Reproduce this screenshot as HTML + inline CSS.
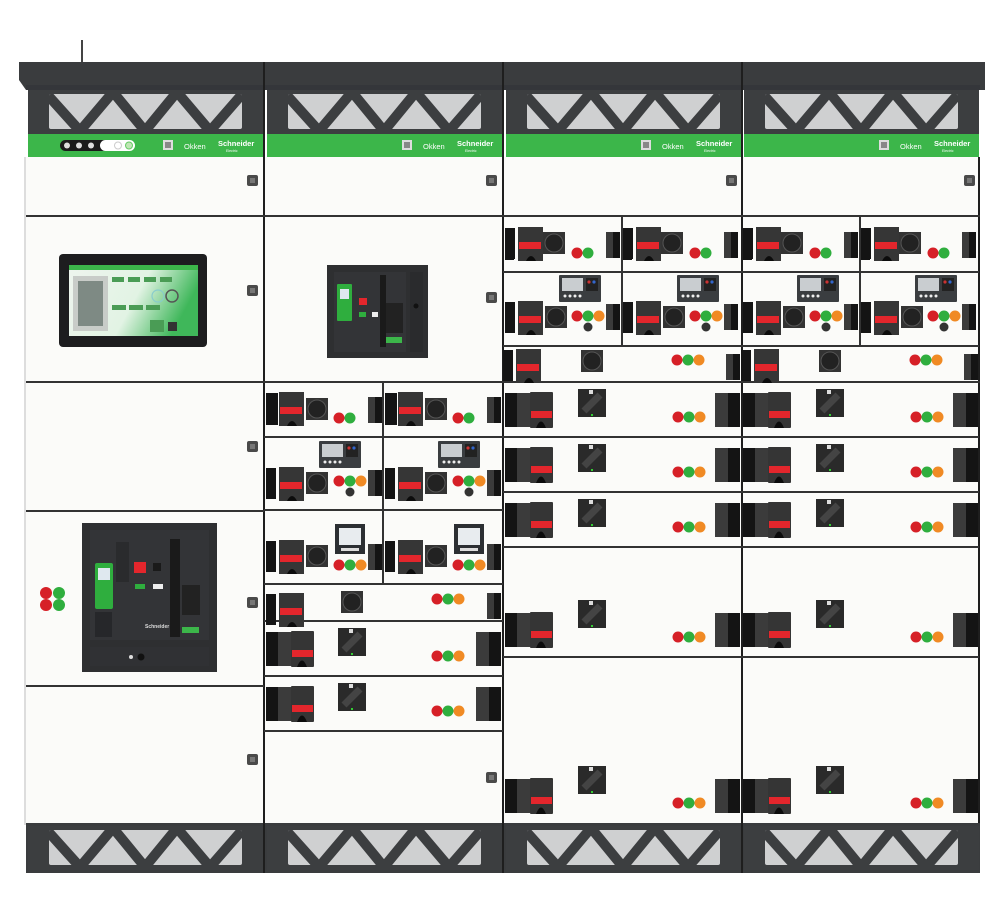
<!DOCTYPE html>
<html><head><meta charset="utf-8"><style>
html,body{margin:0;padding:0;background:#fff;}
svg{display:block;font-family:"Liberation Sans",sans-serif;}
</style></head><body>
<svg width="1000" height="923" viewBox="0 0 1000 923" xmlns="http://www.w3.org/2000/svg">
<defs>
  <g id="M">
    <rect x="0" y="0" width="12" height="34" fill="#141414"/>
    <rect x="12" y="0" width="13" height="34" fill="#3b3b3b"/>
    <rect x="25" y="-1" width="23" height="36" rx="1" fill="#353535"/>
    <rect x="26" y="18" width="21" height="7" fill="#e3262c"/>
    <path d="M31 35 Q36 22 41 35 Z" fill="#0c0c0c"/>
  </g>
  <g id="R">
    <rect x="0" y="0" width="28" height="28" fill="#2a2a2a"/>
    <path d="M6 22 L22 6" stroke="#444" stroke-width="7"/>
    <rect x="11" y="1" width="4" height="4" fill="#ddd"/>
    <rect x="13" y="25" width="2" height="2" fill="#3c3"/>
  </g>
  <g id="Rr">
    <rect x="0" y="0" width="22" height="22" fill="#333"/>
    <circle cx="11" cy="11" r="9" fill="#222" stroke="#555" stroke-width="1"/>
  </g>
  <g id="B">
    <rect x="0" y="0" width="13" height="34" fill="#3b3b3b"/>
    <rect x="13" y="0" width="12" height="34" fill="#141414"/>
  </g>
  <g id="Bs">
    <rect x="0" y="0" width="7" height="26" fill="#3b3b3b"/>
    <rect x="7" y="0" width="7" height="26" fill="#141414"/>
  </g>
  <g id="SM">
    <rect x="0" y="1" width="10" height="31" fill="#141414"/>
    <rect x="13" y="0" width="25" height="34" fill="#363636"/>
    <rect x="14" y="15" width="22" height="7" fill="#e3262c"/>
    <path d="M21 34 Q26 24 31 34 Z" fill="#0c0c0c"/>
  </g>
  <g id="L3">
    <circle cx="0" cy="0" r="5.5" fill="#d62027"/>
    <circle cx="11" cy="0" r="5.5" fill="#2fae3e"/>
    <circle cx="22" cy="0" r="5.5" fill="#f08a24"/>
  </g>
  <g id="L2">
    <circle cx="0" cy="0" r="5.5" fill="#d62027"/>
    <circle cx="11" cy="0" r="5.5" fill="#2fae3e"/>
  </g>
  <g id="K"><rect x="0" y="0" width="11" height="11" rx="2" fill="#4a4a4a"/><rect x="3" y="3" width="5" height="5" fill="#777"/></g>
  <g id="D">
    <rect x="0" y="0" width="42" height="27" rx="1" fill="#3a3d40"/>
    <rect x="3" y="3" width="21" height="13" fill="#c9cdd0"/>
    <rect x="27" y="3" width="12" height="13" fill="#222"/>
    <circle cx="30" cy="7" r="1.6" fill="#c33"/><circle cx="35" cy="7" r="1.6" fill="#36c"/>
    <circle cx="6" cy="21" r="1.5" fill="#eee"/><circle cx="11" cy="21" r="1.5" fill="#eee"/><circle cx="16" cy="21" r="1.5" fill="#eee"/><circle cx="21" cy="21" r="1.5" fill="#eee"/>
  </g>
  <g id="MET">
    <rect x="0" y="0" width="30" height="30" fill="#2c2f33"/>
    <rect x="4" y="4" width="22" height="17" fill="#e8ecef"/>
    <rect x="6" y="24" width="18" height="3" fill="#ddd"/>
  </g>
  <g id="VENT">
    <rect x="2" y="0" width="235" height="44" fill="#3c3e40"/>
    <clipPath id="vc"><rect x="23" y="4" width="193" height="35" rx="2"/></clipPath>
    <rect x="23" y="4" width="193" height="35" rx="2" fill="#cfd0d1"/>
    <polyline clip-path="url(#vc)" points="19,2 54,41 87,2 119,41 151,2 184,41 218,2" fill="none" stroke="#3c3e40" stroke-width="10" stroke-linejoin="round"/>
  </g>
  <g id="COLTOP">
    <rect x="2" y="0" width="235" height="23" fill="#3cb64a"/>
    <rect x="137" y="6" width="10" height="10" fill="#ddd"/>
    <rect x="139" y="8" width="6" height="6" fill="#888"/>
    <text x="158" y="15" font-size="7.5" fill="#fff">Okken</text>
    <text x="192" y="12" font-size="7.5" font-weight="bold" fill="#fff">Schneider</text>
    <text x="200" y="18" font-size="3.5" fill="#fff">Electric</text>
  </g>
</defs>

<!-- antenna -->
<rect x="81" y="40" width="2" height="22" fill="#444"/>
<!-- body -->
<rect x="26" y="157" width="954" height="668" fill="#fbfbf9"/>
<rect x="24" y="157" width="2" height="668" fill="#ddd"/>
<!-- top cap -->
<path d="M19 62 L985 62 L985 90 L26 90 L19 80 Z" fill="#3a3c3e"/>
<rect x="26" y="85" width="954" height="5" fill="#34363a"/>
<use href="#VENT" x="26" y="90"/><use href="#VENT" x="265" y="90"/><use href="#VENT" x="504" y="90"/><use href="#VENT" x="742" y="90"/>
<use href="#COLTOP" x="26" y="134"/><use href="#COLTOP" x="265" y="134"/><use href="#COLTOP" x="504" y="134"/><use href="#COLTOP" x="742" y="134"/>
<!-- col1 indicator pill -->
<rect x="60" y="140" width="50" height="11" rx="5.5" fill="#1b1b1b"/>
<rect x="100" y="140" width="35" height="11" rx="5.5" fill="#fff"/>
<circle cx="67" cy="145.5" r="3" fill="#ddd"/><circle cx="79" cy="145.5" r="3" fill="#ddd"/><circle cx="91" cy="145.5" r="3" fill="#ddd"/>
<circle cx="118" cy="145.5" r="3.5" fill="none" stroke="#ccc"/><circle cx="129" cy="145.5" r="3.5" fill="#bfe6b5" stroke="#6c6"/>
<!-- plinth -->
<rect x="26" y="823" width="954" height="50" fill="#3a3c3e"/>
<use href="#VENT" x="26" y="826"/><use href="#VENT" x="265" y="826"/><use href="#VENT" x="504" y="826"/><use href="#VENT" x="742" y="826"/>

<!-- column dividers -->
<g fill="#1e1e1e">
<rect x="263" y="62" width="2" height="811"/>
<rect x="502" y="62" width="2" height="811"/>
<rect x="741" y="62" width="2" height="811"/>
<rect x="978" y="157" width="2" height="666"/>
</g>
<!-- horizontal dividers -->
<g fill="#333">
<rect x="26" y="215" width="954" height="2"/>
<rect x="26" y="381" width="954" height="2"/>
<rect x="26" y="510" width="238" height="2"/>
<rect x="26" y="685" width="238" height="2"/>
<rect x="264" y="436" width="239" height="2"/>
<rect x="264" y="509" width="239" height="2"/>
<rect x="264" y="583" width="239" height="2"/>
<rect x="264" y="620" width="239" height="2"/>
<rect x="264" y="675" width="239" height="2"/>
<rect x="264" y="730" width="239" height="2"/>
<rect x="503" y="271" width="476" height="2"/>
<rect x="503" y="345" width="476" height="2"/>
<rect x="503" y="436" width="476" height="2"/>
<rect x="503" y="491" width="476" height="2"/>
<rect x="503" y="546" width="476" height="2"/>
<rect x="503" y="656" width="476" height="2"/>
<rect x="382" y="382" width="2" height="202"/>
<rect x="621" y="216" width="2" height="130"/>
<rect x="859" y="216" width="2" height="130"/>
</g>

<!-- keys -->
<use href="#K" x="247" y="175"/><use href="#K" x="247" y="285"/><use href="#K" x="247" y="441"/><use href="#K" x="247" y="597"/><use href="#K" x="247" y="754"/>
<use href="#K" x="486" y="175"/><use href="#K" x="486" y="292"/><use href="#K" x="486" y="772"/>
<use href="#K" x="726" y="175"/><use href="#K" x="964" y="175"/>

<!-- col1 screen -->
<rect x="59" y="254" width="148" height="93" rx="4" fill="#1d1d1f"/>
<defs><linearGradient id="sg" x1="0" y1="0" x2="1" y2="0.3"><stop offset="0" stop-color="#eef5ee"/><stop offset="0.6" stop-color="#e2f3e4"/><stop offset="1" stop-color="#3fb75a"/></linearGradient></defs>
<rect x="69" y="265" width="129" height="71" fill="url(#sg)"/>
<rect x="69" y="265" width="129" height="5" fill="#3cb64a"/>
<rect x="73" y="276" width="35" height="55" fill="#c8ccc8"/>
<rect x="78" y="281" width="25" height="45" fill="#7e8a84"/>
<rect x="112" y="277" width="12" height="5" fill="#4a9c55"/><rect x="128" y="277" width="12" height="5" fill="#4a9c55"/><rect x="144" y="277" width="12" height="5" fill="#4a9c55"/><rect x="160" y="277" width="12" height="5" fill="#4a9c55"/>
<circle cx="158" cy="296" r="6" fill="none" stroke="#8cc" stroke-width="1.2"/><circle cx="172" cy="296" r="6" fill="none" stroke="#555" stroke-width="1.5"/>
<rect x="112" y="305" width="14" height="5" fill="#4a9c55"/><rect x="129" y="305" width="14" height="5" fill="#4a9c55"/><rect x="146" y="305" width="14" height="5" fill="#4a9c55"/>
<rect x="150" y="320" width="14" height="12" fill="#4a9c55"/><rect x="168" y="322" width="9" height="9" fill="#333"/>

<!-- col1 breaker -->
<rect x="82" y="523" width="135" height="149" fill="#2e2f31"/>
<rect x="90" y="530" width="119" height="110" fill="#333437"/>
<rect x="95" y="563" width="18" height="46" rx="2" fill="#2fae3e"/>
<rect x="98" y="568" width="12" height="12" fill="#dfe8ef"/>
<rect x="95" y="612" width="17" height="25" fill="#26272a"/>
<rect x="116" y="542" width="13" height="40" fill="#2a2b2d"/>
<rect x="134" y="562" width="12" height="11" fill="#e3262c"/>
<rect x="153" y="563" width="8" height="8" fill="#1a1a1a"/>
<rect x="135" y="584" width="10" height="5" fill="#2fae3e"/>
<rect x="153" y="584" width="10" height="5" fill="#eee"/>
<rect x="170" y="539" width="10" height="98" fill="#1a1a1a"/>
<rect x="182" y="585" width="18" height="30" fill="#222"/>
<rect x="182" y="627" width="17" height="6" fill="#3cb64a"/>
<text x="145" y="628" font-size="5" font-weight="bold" fill="#ddd">Schneider</text>
<rect x="90" y="647" width="119" height="19" fill="#303134"/>
<circle cx="141" cy="657" r="3.5" fill="#111"/><circle cx="131" cy="657" r="2" fill="#ddd"/>
<!-- col1 lights -->
<circle cx="46" cy="593" r="6" fill="#d62027"/><circle cx="59" cy="593" r="6" fill="#2fae3e"/>
<circle cx="46" cy="605" r="6" fill="#d62027"/><circle cx="59" cy="605" r="6" fill="#2fae3e"/>

<!-- col2 breaker -->
<rect x="327" y="265" width="101" height="93" fill="#2e2f31"/>
<rect x="334" y="272" width="72" height="80" fill="#333437"/>
<rect x="337" y="284" width="15" height="37" rx="1" fill="#2fae3e"/>
<rect x="340" y="289" width="9" height="10" fill="#dfe8ef"/>
<rect x="359" y="298" width="8" height="7" fill="#e3262c"/>
<rect x="359" y="312" width="7" height="5" fill="#2fae3e"/>
<rect x="372" y="312" width="6" height="5" fill="#eee"/>
<rect x="380" y="275" width="6" height="72" fill="#1a1a1a"/>
<rect x="386" y="303" width="17" height="30" fill="#222"/>
<rect x="386" y="337" width="16" height="6" fill="#3cb64a"/>
<rect x="410" y="272" width="13" height="80" fill="#2a2b2d"/>
<circle cx="416" cy="306" r="2.5" fill="#111"/>

<!-- col2 split cells -->
<g id="c2a">
  <rect x="266" y="393" width="12" height="32" fill="#141414"/>
  <use href="#SM" x="266" y="392"/>
  <use href="#Rr" x="306" y="398"/>
  <use href="#L2" x="339" y="418"/>
  <use href="#Bs" x="368" y="397"/>
  <use href="#D" x="319" y="441"/>
  <use href="#SM" x="266" y="467"/>
  <use href="#Rr" x="306" y="472"/>
  <use href="#L3" x="339" y="481"/>
  <circle cx="350" cy="492" r="4.5" fill="#333"/>
  <use href="#Bs" x="368" y="470"/>
  <use href="#MET" x="335" y="524"/>
  <use href="#SM" x="266" y="540"/>
  <use href="#Rr" x="306" y="545"/>
  <use href="#L3" x="339" y="565"/>
  <use href="#Bs" x="368" y="544"/>
</g>
<use href="#c2a" x="119" y="0"/>
<!-- col2 full rows -->
<use href="#SM" x="266" y="593" transform="translate(0,0)"/>
<use href="#Rr" x="341" y="591"/>
<use href="#L3" x="437" y="599"/>
<use href="#Bs" x="487" y="593"/>
<use href="#M" x="266" y="632"/>
<use href="#R" x="338" y="628"/>
<use href="#L3" x="437" y="656"/>
<use href="#B" x="476" y="632"/>
<use href="#M" x="266" y="687"/>
<use href="#R" x="338" y="683"/>
<use href="#L3" x="437" y="711"/>
<use href="#B" x="476" y="687"/>

<!-- col3 (and col4 via translate) -->
<g id="c3">
  <g id="c3cell">
    <rect x="505" y="229" width="9" height="31" fill="#141414"/>
    <use href="#SM" x="505" y="227"/>
    <use href="#Rr" x="543" y="232"/>
    <use href="#L2" x="577" y="253"/>
    <use href="#Bs" x="606" y="232"/>
    <use href="#D" x="559" y="275"/>
    <use href="#SM" x="505" y="301"/>
    <use href="#Rr" x="545" y="306"/>
    <use href="#L3" x="577" y="316"/>
    <circle cx="588" cy="327" r="4.5" fill="#333"/>
    <use href="#Bs" x="606" y="304"/>
  </g>
  <use href="#c3cell" x="118" y="0"/>
  <use href="#SM" x="503" y="349"/>
  <use href="#Rr" x="581" y="350"/>
  <use href="#L3" x="677" y="360"/>
  <use href="#Bs" x="726" y="354"/>
  <use href="#M" x="505" y="393"/><use href="#R" x="578" y="389"/><use href="#L3" x="678" y="417"/><use href="#B" x="715" y="393"/>
  <use href="#M" x="505" y="448"/><use href="#R" x="578" y="444"/><use href="#L3" x="678" y="472"/><use href="#B" x="715" y="448"/>
  <use href="#M" x="505" y="503"/><use href="#R" x="578" y="499"/><use href="#L3" x="678" y="527"/><use href="#B" x="715" y="503"/>
  <use href="#M" x="505" y="613"/><use href="#R" x="578" y="600"/><use href="#L3" x="678" y="637"/><use href="#B" x="715" y="613"/>
  <use href="#M" x="505" y="779"/><use href="#R" x="578" y="766"/><use href="#L3" x="678" y="803"/><use href="#B" x="715" y="779"/>
</g>
<use href="#c3" x="238" y="0"/>
</svg>
</body></html>
